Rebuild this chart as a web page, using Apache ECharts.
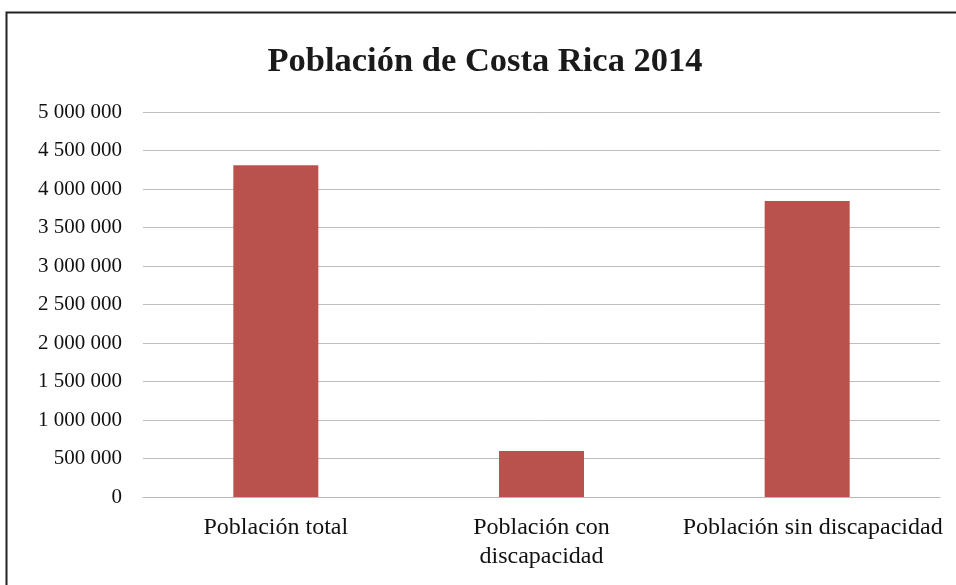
<!DOCTYPE html>
<html>
<head>
<meta charset="utf-8">
<script src="https://cdn.jsdelivr.net/npm/echarts@6/dist/echarts.min.js"></script>
<style>
  html, body { margin: 0; padding: 0; background: #ffffff; }
  #chart { width: 956px; height: 585px; }
</style>
</head>
<body>
<div id="chart"></div>
<script>
const titleText = 'Población de Costa Rica 2014';
const categories = ['Población total', 'Población con\ndiscapacidad', 'Población sin discapacidad'];
const values = [4310000, 597000, 3844000];
const yMin = 0, yMax = 5000000, yStep = 500000;

function fmt(v) {
  return String(v).replace(/\B(?=(\d{3})+(?!\d))/g, ' ');
}

const labelFont = { fontFamily: 'Liberation Serif', fontSize: 24, color: '#111', lineHeight: 29 };

const chart = echarts.init(document.getElementById('chart'), null, { renderer: 'canvas' });
chart.setOption({
  backgroundColor: '#ffffff',
  animation: false,
  title: {
    text: titleText,
    left: 480, top: 40, textAlign: 'center',
    textStyle: { fontFamily: 'Liberation Serif', fontWeight: 'bold', fontSize: 34.5, color: '#1a1a1a' }
  },
  graphic: [{
    type: 'rect', left: 4, top: 10, z: -1,
    shape: { width: 1000, height: 700 },
    style: { fill: 'none', stroke: '#222', lineWidth: 2 }
  }],
  grid: { left: 143, right: 16, top: 112, bottom: 88, containLabel: false },
  xAxis: {
    type: 'category', data: categories,
    axisLine: { show: true, lineStyle: { color: '#b8b8b8', width: 1 } },
    axisTick: { show: false },
    axisLabel: {
      margin: 16, interval: 0,
      fontFamily: 'Liberation Serif', fontSize: 24, color: '#111', lineHeight: 29,
      formatter: function (v, i) { return i === categories.length - 1 ? '{s|' + v + '}' : v; },
      rich: { s: Object.assign({ padding: [0, 0, 0, 11] }, labelFont) }
    }
  },
  yAxis: {
    type: 'value', min: yMin, max: yMax, interval: yStep,
    axisLine: { show: false }, axisTick: { show: false },
    splitLine: { lineStyle: { color: '#bdbdbd', width: 1 } },
    axisLabel: { margin: 21, fontFamily: 'Liberation Serif', fontSize: 21, color: '#111', formatter: fmt }
  },
  series: [{
    type: 'bar', data: values, barWidth: 85,
    itemStyle: { color: '#b9524d' }
  }]
});
</script>
</body>
</html>
